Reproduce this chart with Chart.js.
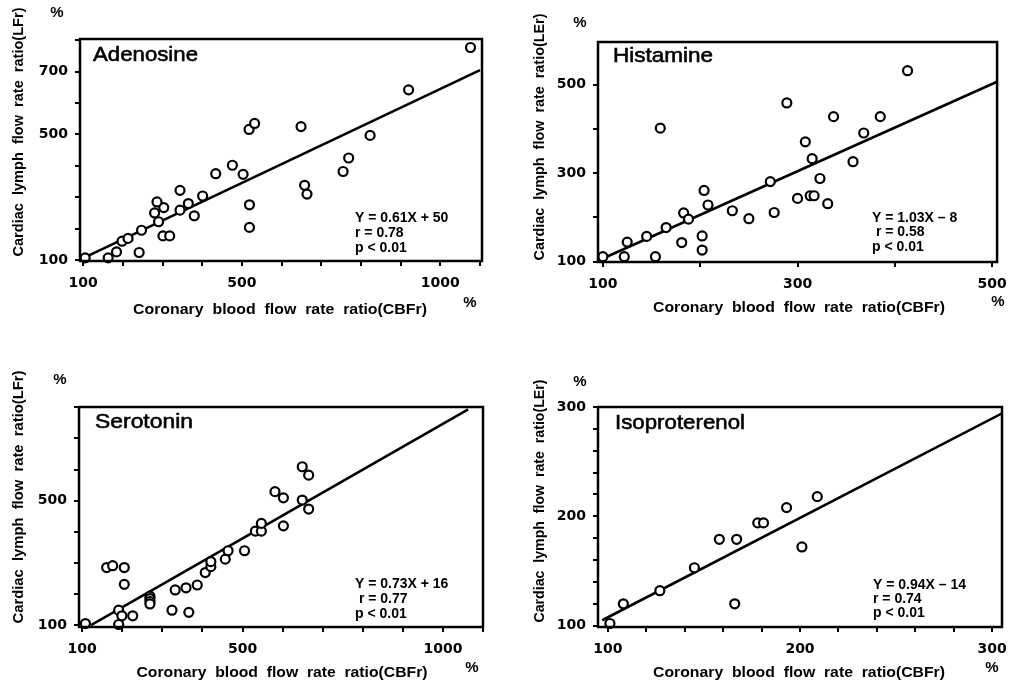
<!DOCTYPE html>
<html>
<head>
<meta charset="utf-8">
<script src="https://cdn.jsdelivr.net/npm/chart.js@4.4.1/dist/chart.umd.min.js"></script>
<style>
  body { margin: 0; background: #fff; }
  canvas { position: absolute; }
</style>
</head>
<body>
<canvas id="adenosine" style="left:0;top:0" width="508" height="343"></canvas>
<canvas id="histamine" style="left:508px;top:0" width="508" height="343"></canvas>
<canvas id="serotonin" style="left:0;top:343px" width="508" height="344"></canvas>
<canvas id="isoproterenol" style="left:508px;top:343px" width="508" height="344"></canvas>
<script>
// values (CBFr %, LFr %)
const adenosineX = [105, 163, 184, 241, 198, 213, 247, 301, 318, 290, 280, 303, 286, 344, 365, 344, 380, 401, 434, 476, 503, 518, 532, 519, 519, 649, 658, 664, 755, 769, 823, 920, 1076];
const adenosineY = [107, 107, 126, 124, 160, 169, 195, 177, 177, 222, 250, 267, 285, 259, 280, 322, 241, 304, 375, 402, 373, 516, 535, 276, 204, 525, 338, 310, 382, 425, 497, 642, 777];
const adenosineLineX = [100, 1100];
const adenosineLineY = [106, 705];

const histamineX = [100, 122, 125, 154, 145, 165, 181, 183, 188, 202, 202, 204, 208, 159, 233, 250, 272, 276, 289, 300, 308, 315, 313, 317, 323, 331, 337, 357, 368, 385, 413];
const histamineY = [111, 111, 144, 111, 157, 177, 143, 210, 196, 158, 126, 261, 228, 402, 215, 197, 281, 211, 459, 243, 371, 333, 249, 249, 288, 231, 428, 326, 391, 428, 532];
const histamineLineX = [100, 505];
const histamineLineY = [107, 507];

const serotoninX = [108, 191, 191, 199, 226, 161, 176, 205, 205, 269, 269, 269, 269, 324, 332, 359, 366, 387, 407, 421, 421, 457, 464, 505, 532, 547, 547, 602, 581, 602, 649, 665, 649, 665];
const serotoninY = [105, 102, 148, 130, 130, 285, 291, 285, 231, 193, 185, 176, 168, 148, 213, 220, 141, 229, 269, 288, 304, 312, 339, 339, 402, 402, 427, 419, 529, 509, 502, 473, 609, 582];
const serotoninLineX = [122, 1063];
const serotoninLineY = [100, 793];

const isoproterenolX = [101, 108, 127, 145, 158, 167, 166, 178, 181, 193, 201, 209];
const isoproterenolY = [102, 120, 132, 153, 179, 179, 120, 194, 194, 208, 172, 218];
const isoproterenolLineX = [97, 305];
const isoproterenolLineY = [105, 294];

// ticks and the ones that carry a label
const wideXTicks = [100, 200, 300, 400, 500, 600, 700, 800, 900, 1000, 1100];
const wideXLabels = [100, 500, 1000];
const adenosineYTicks = [100, 200, 300, 400, 500, 600, 700, 800];
const adenosineYLabels = [100, 500, 700];
const histamineXTicks = [100, 200, 300, 400, 500];
const histamineXLabels = [100, 300, 500];
const histamineYTicks = [100, 200, 300, 400, 500];
const histamineYLabels = [100, 300, 500];
const serotoninYTicks = [100, 200, 300, 400, 500, 600, 700, 800];
const serotoninYLabels = [100, 500];
const isoXTicks = [100, 120, 140, 160, 180, 200, 220, 240, 260, 280, 300];
const isoXLabels = [100, 200, 300];
const isoYTicks = [100, 120, 140, 160, 180, 200, 220, 240, 260, 280, 300];
const isoYLabels = [100, 200, 300];

const xTitle = 'Coronary  blood  flow  rate  ratio(CBFr)';

const panels = [
  {
    id: 'adenosine', ox: 0, oy: 0, w: 508, h: 343, area: [80, 39, 482, 261],
    xs: adenosineX, ys: adenosineY, lx: adenosineLineX, ly: adenosineLineY,
    x: { min: 92, max: 1105, ticks: wideXTicks, labels: wideXLabels },
    y: { min: 97, max: 804, ticks: adenosineYTicks, labels: adenosineYLabels },
    name: 'Adenosine', namePos: [93, 55, 105],
    eq: ['Y = 0.61X + 50', 'r = 0.78', 'p < 0.01'], eqPos: [355, 218, 15],
    yTitle: 'Cardiac  lymph  flow  rate  ratio(LFr)', yTitlePos: [19, 132, 249],
    xTitlePos: [280, 310, 294], pctTop: [57, 13], pctBottom: [470, 303]
  },
  {
    id: 'histamine', ox: 508, oy: 0, w: 508, h: 343, area: [598, 42, 1002, 262],
    xs: histamineX, ys: histamineY, lx: histamineLineX, ly: histamineLineY,
    x: { min: 95, max: 505, ticks: histamineXTicks, labels: histamineXLabels },
    y: { min: 99, max: 597, ticks: histamineYTicks, labels: histamineYLabels },
    name: 'Histamine', namePos: [613, 56, 100],
    eq: ['Y = 1.03X \u2013 8', ' r = 0.58', 'p < 0.01'], eqPos: [872, 218, 14.5],
    yTitle: 'Cardiac  lymph  flow  rate  ratio(LEr)', yTitlePos: [540, 137, 247],
    xTitlePos: [799, 308, 292], pctTop: [580, 23], pctBottom: [998, 302]
  },
  {
    id: 'serotonin', ox: 0, oy: 343, w: 508, h: 344, area: [79, 407, 483, 627],
    xs: serotoninX, ys: serotoninY, lx: serotoninLineX, ly: serotoninLineY,
    x: { min: 92, max: 1100, ticks: wideXTicks, labels: wideXLabels },
    y: { min: 94, max: 801, ticks: serotoninYTicks, labels: serotoninYLabels },
    name: 'Serotonin', namePos: [95, 422, 98],
    eq: ['Y = 0.73X + 16', ' r = 0.77', 'p < 0.01'], eqPos: [355, 584, 15],
    yTitle: 'Cardiac  lymph  flow  rate  ratio(LFr)', yTitlePos: [19, 497, 253],
    xTitlePos: [282, 673, 291], pctTop: [60, 380], pctBottom: [472, 668]
  },
  {
    id: 'isoproterenol', ox: 508, oy: 343, w: 508, h: 344, area: [598, 407, 1002, 627],
    xs: isoproterenolX, ys: isoproterenolY, lx: isoproterenolLineX, ly: isoproterenolLineY,
    x: { min: 94.8, max: 305.2, ticks: isoXTicks, labels: isoXLabels },
    y: { min: 98.8, max: 300, ticks: isoYTicks, labels: isoYLabels },
    name: 'Isoproterenol', namePos: [615, 423, 130],
    eq: ['Y = 0.94X \u2013 14', 'r = 0.74', 'p < 0.01'], eqPos: [873, 585, 14],
    yTitle: 'Cardiac  lymph  flow  rate  ratio(LEr)', yTitlePos: [540, 501, 243],
    xTitlePos: [799, 673, 292], pctTop: [580, 382], pctBottom: [992, 668]
  }
];

// draw text squeezed/stretched to a given width
function fitText(ctx, text, x, y, width, align) {
  const w = ctx.measureText(text).width;
  ctx.save();
  ctx.translate(x, y);
  ctx.scale(width / w, 1);
  ctx.textAlign = align;
  ctx.fillText(text, 0, 0);
  ctx.restore();
}

const panelText = {
  id: 'panelText',
  afterDraw(chart) {
    const p = chart.config.options.panel;
    const ctx = chart.ctx;
    const a = chart.chartArea;
    ctx.save();
    ctx.strokeStyle = '#000';
    ctx.lineWidth = 2.5;
    ctx.strokeRect(a.left, a.top, a.right - a.left, a.bottom - a.top);

    ctx.fillStyle = '#000';
    ctx.textBaseline = 'middle';
    ctx.translate(-p.ox, -p.oy);

    ctx.font = '21px "Liberation Sans", Arial, sans-serif';
    ctx.strokeStyle = '#000';
    ctx.lineWidth = 0.6;
    const nw = ctx.measureText(p.name).width;
    ctx.save();
    ctx.translate(p.namePos[0], p.namePos[1]);
    ctx.scale(p.namePos[2] / nw, 1);
    ctx.textAlign = 'left';
    ctx.fillText(p.name, 0, 0);
    ctx.strokeText(p.name, 0, 0);
    ctx.restore();

    ctx.font = 'bold 14px "Liberation Sans", Arial, sans-serif';
    p.eq.forEach((s, i) => {
      ctx.textAlign = 'left';
      ctx.fillText(s, p.eqPos[0], p.eqPos[1] + i * p.eqPos[2]);
    });

    ctx.font = 'bold 15px "Liberation Sans", Arial, sans-serif';
    ctx.textAlign = 'center';
    ctx.fillText('%', p.pctTop[0], p.pctTop[1]);
    ctx.fillText('%', p.pctBottom[0], p.pctBottom[1]);

    ctx.font = 'bold 15px "Liberation Sans", Arial, sans-serif';
    fitText(ctx, xTitle, p.xTitlePos[0], p.xTitlePos[1], p.xTitlePos[2], 'center');

    ctx.save();
    ctx.translate(p.yTitlePos[0], p.yTitlePos[1]);
    ctx.rotate(-Math.PI / 2);
    ctx.font = 'bold 15px "Liberation Sans", Arial, sans-serif';
    fitText(ctx, p.yTitle, 0, 0, p.yTitlePos[2], 'center');
    ctx.restore();

    ctx.restore();
  }
};

const tickFont = { family: '"DejaVu Sans", sans-serif', weight: 'bold', size: 14 };

function makeChart(p) {
  const [l, t, r, b] = p.area;
  const ctx = document.getElementById(p.id).getContext('2d');
  new Chart(ctx, {
    type: 'scatter',
    data: {
      datasets: [
        {
          data: p.xs.map((x, i) => ({ x: x, y: p.ys[i] })),
          pointRadius: 4.5,
          pointHoverRadius: 4.5,
          pointBorderWidth: 2.2,
          pointBorderColor: '#000',
          pointBackgroundColor: '#fff',
          order: 0,
          clip: false
        },
        {
          data: p.lx.map((x, i) => ({ x: x, y: p.ly[i] })),
          showLine: true,
          borderColor: '#000',
          borderWidth: 2.6,
          pointRadius: 0,
          order: 1
        }
      ]
    },
    options: {
      panel: p,
      responsive: false,
      animation: false,
      devicePixelRatio: 1,
      events: [],
      layout: { padding: { left: 0, top: t - p.oy, right: p.ox + p.w - r, bottom: 0 } },
      plugins: { legend: { display: false }, tooltip: { enabled: false } },
      scales: {
        x: {
          type: 'linear',
          min: p.x.min,
          max: p.x.max,
          afterBuildTicks: s => { s.ticks = p.x.ticks.map(v => ({ value: v })); },
          afterFit: s => { s.height = p.oy + p.h - b; },
          ticks: {
            autoSkip: false, maxRotation: 0, color: '#000', font: tickFont, padding: 9,
            callback: v => p.x.labels.includes(v) ? String(v) : ''
          },
          grid: { drawOnChartArea: false, tickLength: 5, color: '#000', lineWidth: 2 },
          border: { display: false }
        },
        y: {
          type: 'linear',
          min: p.y.min,
          max: p.y.max,
          afterBuildTicks: s => { s.ticks = p.y.ticks.map(v => ({ value: v })); },
          afterFit: s => { s.width = l - p.ox; },
          ticks: {
            autoSkip: false, color: '#000', font: tickFont, padding: 7,
            callback: v => p.y.labels.includes(v) ? String(v) : ''
          },
          grid: { drawOnChartArea: false, tickLength: 5, color: '#000', lineWidth: 2 },
          border: { display: false }
        }
      }
    },
    plugins: [panelText]
  });
}

panels.forEach(makeChart);
</script>
</body>
</html>
